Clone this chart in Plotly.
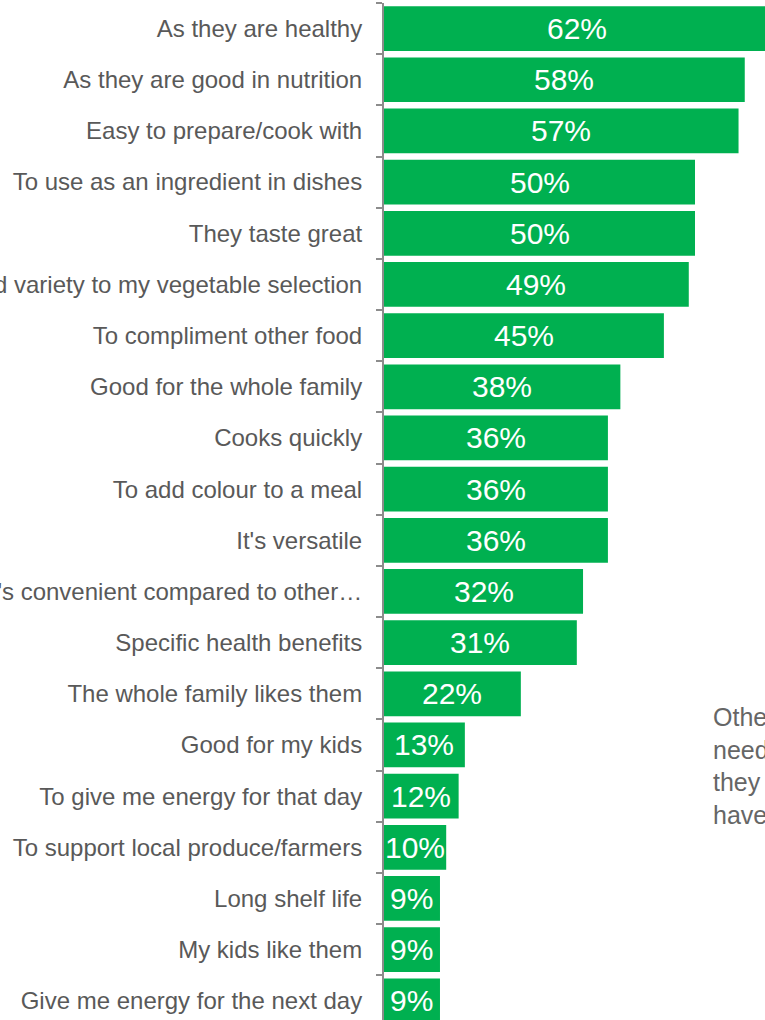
import plotly.graph_objects as go

# Reasons for buying, share of respondents (%)
reasons = [
    "As they are healthy",
    "As they are good in nutrition",
    "Easy to prepare/cook with",
    "To use as an ingredient in dishes",
    "They taste great",
    "To add variety to my vegetable selection",
    "To compliment other food",
    "Good for the whole family",
    "Cooks quickly",
    "To add colour to a meal",
    "It's versatile",
    "It's convenient compared to other…",
    "Specific health benefits",
    "The whole family likes them",
    "Good for my kids",
    "To give me energy for that day",
    "To support local produce/farmers",
    "Long shelf life",
    "My kids like them",
    "Give me energy for the next day",
]
shares = [62, 58, 57, 50, 50, 49, 45, 38, 36, 36, 36, 32, 31, 22, 13, 12, 10, 9, 9, 9]

side_note = "Other reasons<br>needed for a recipe<br>they were on special<br>have them every week"

GREEN = "#00B050"
FONT = "Liberation Sans, Arial, sans-serif"

fig = go.Figure(
    go.Bar(
        x=shares,
        y=reasons,
        orientation="h",
        marker=dict(color=GREEN, line=dict(width=0)),
        hoverinfo="skip",
    )
)

# value labels centred on each bar
for r, v in zip(reasons, shares):
    fig.add_annotation(
        x=v / 2, y=r, xref="x", yref="y",
        text=f"{v}%", showarrow=False,
        xanchor="center", yanchor="middle",
        font=dict(family=FONT, size=30, color="white"),
    )

fig.add_annotation(
    x=0.858, y=0.3137, xref="paper", yref="paper",
    text=side_note, showarrow=False, align="left",
    xanchor="left", yanchor="top",
    font=dict(family=FONT, size=25, color="#666666"),
)

fig.update_layout(
    width=765,
    height=1020,
    margin=dict(l=384, r=0, t=3, b=0, autoexpand=False),
    paper_bgcolor="white",
    plot_bgcolor="white",
    bargap=0.126,
    showlegend=False,
    xaxis=dict(
        range=[0, 381 / 6.22],
        visible=False,
        showgrid=False,
        zeroline=False,
    ),
    yaxis=dict(
        type="category",
        range=[19.375, -0.5],
        automargin=False,
        showline=True,
        linecolor="#8c8c8c",
        linewidth=2,
        ticks="outside",
        tickson="boundaries",
        ticklen=6,
        tickcolor="#8c8c8c",
        tickwidth=2,
        ticklabelstandoff=15,
        tickfont=dict(family=FONT, size=24, color="#595959"),
        showgrid=False,
        zeroline=False,
    ),
)

fig.write_html("out.html")
